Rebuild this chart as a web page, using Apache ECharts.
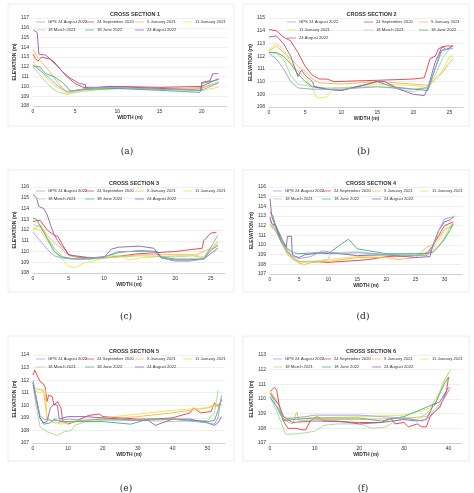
<!DOCTYPE html>
<html><head><meta charset="utf-8">
<script src="https://cdn.jsdelivr.net/npm/echarts@6/dist/echarts.min.js"></script>
<style>html,body{margin:0;padding:0;background:#fff}#c{width:474px;height:493px}</style>
</head><body><div id="c"></div>
<script>
const seriesNames=['GPS 24 August 2022','24 September 2020','5 January 2021','11 January 2021','18 March 2021','18 June 2022','24 August 2022'];
const colors=['#8fa3dc','#e63b3b','#f6b24a','#eee04a','#a9d98b','#3fae7d','#8e5bb5'];
const titles=['CROSS SECTION 1','CROSS SECTION 2','CROSS SECTION 3','CROSS SECTION 4','CROSS SECTION 5','CROSS SECTION 6'];
const captions=['(a)','(b)','(c)','(d)','(e)','(f)'];
const yMin=[108,108,108,107,107,107];
const yMax=[117,115,116,116,114,113];
const xMax=[23,27,27,33,55,43];
const xInt=[5,5,5,5,10,10];

// Cross section 1
const p1_gps=[[0,112.2],[1,111.5],[2,110.8],[3,110.0],[4,109.5],[5,109.6],[7,109.9],[10,109.9],[15,109.7],[20,109.6],[22,110.4]];
const p1_sep20=[[0,113.3],[0.3,112.8],[0.6,112.6],[1,113],[2,112.8],[3,112],[4,111],[5,110.3],[6,109.9],[8,109.9],[10,110],[15,109.9],[20,110],[22,110.8]];
const p1_jan5=[[0,113.8],[0.5,113],[1,112.5],[2,111.5],[3,110.3],[4,109.4],[5,109.6],[7,109.8],[10,109.8],[15,109.7],[20,109.9],[22,110.3]];
const p1_jan11=[[0,112.5],[1,111.5],[2,110.5],[3,109.8],[4,109.3],[6,109.6],[10,109.8],[15,109.8],[20,109.6],[22,109.9]];
const p1_mar18=[[0,112],[1,111],[2,110],[3,109.4],[4,109.2],[5,109.4],[8,109.7],[12,109.8],[16,109.7],[20,109.8],[22,110.5]];
const p1_jun18=[[0,112.1],[0.8,112],[1.5,111.3],[2.5,111],[3.5,110.4],[4.5,109.5],[6,109.7],[10,109.8],[15,109.6],[19.8,109.4],[20,110.3],[22,110.7]];
const p1_aug24=[[0,115.8],[0.5,115.5],[0.7,113.3],[1.5,113.2],[2.5,112.5],[3.5,111.5],[4.5,110.8],[5.5,110.3],[6.2,110.2],[6.3,109.8],[9,110],[15,109.8],[20,109.6],[20,110.4],[21,110.6],[21.3,111.3],[22,111.3]];
// Cross section 2
const p2_gps=[[0,112.2],[1,111.8],[2,111],[3,110],[4,109.5],[6,109.4],[8,109.4],[10,109.4],[15,109.6],[20,109.4],[22,109.5],[23,111],[24,112.5],[25.5,112.6]];
const p2_sep20=[[0,114.1],[1,114],[2,113.5],[3,113.2],[4,112.3],[5,111.2],[6,110.5],[7,110.2],[8,110.2],[9,110],[15,110.1],[20,110.2],[21.5,110.3],[22.3,111.8],[23,112],[23.5,112.6],[24.5,112.8],[25.5,112.8]];
const p2_jan5=[[0,112.4],[1,112.8],[2,112.3],[3,111.8],[4,111.2],[5,110.8],[6,110.2],[7,109.9],[10,109.8],[15,110],[20,109.8],[22,109.7],[24,110.7],[25,111.5],[25.5,111.8]];
const p2_jan11=[[0,112.5],[1,113],[2,112.5],[3,111.5],[4,110.8],[5,110.3],[6,109.5],[6.5,108.8],[7,108.7],[8,108.8],[9,109.5],[12,109.6],[15,109.8],[20,109.7],[22,109.5],[24,110.8],[25,112],[25.5,112]];
const p2_mar18=[[0,112.3],[1,112.2],[2,111.8],[3,110.5],[4,109.8],[6,109.6],[8,109.5],[10,109.5],[15,109.6],[17,109.5],[20,109.2],[22,109.6],[23,110.5],[24,111.8],[25,112.6]];
const p2_jun18=[[0,112.3],[1,112.3],[2,112],[3,111.4],[4,110.6],[5,110],[6,109.6],[8,109.4],[10,109.3],[15,110],[17,109.6],[20,109.4],[22,109.3],[23,111],[23.8,112.4],[25,112.6]];
const p2_aug24=[[0,113.5],[1,113.6],[2,113],[3,112],[4,110.4],[4.5,110.9],[5,110.5],[6,110],[6.3,109.6],[8,109.4],[10,109.3],[13,109.7],[15,110],[16,110],[18,109.4],[20,109],[21.5,108.9],[22,109.5],[23,111.5],[24,112.8],[24.5,112.5],[25.5,112.8]];
// Cross section 3
const p3_gps=[[0,111.8],[1,111],[2,110.2],[3,109.6],[4,109.4],[6,109.3],[8,109.4],[10,109.5],[12,110],[17,110],[18,109.4],[20,109.1],[22,109.1],[24,109.3],[25,110.4],[26,111.5]];
const p3_sep20=[[0,112.8],[1,112.9],[2,112],[3,111.5],[3.5,111.4],[4,110.8],[5,109.7],[6,109.5],[8,109.4],[10,109.4],[15,109.8],[20,110],[22.5,110.2],[23.8,110.3],[24,111],[25,111.7],[25.8,111.8]];
const p3_jan5=[[0,112],[1,112.5],[2,111.5],[3,110.8],[4,110.3],[5,109.6],[7,109.5],[10,109.4],[15,109.7],[20,109.7],[23,109.7],[25,110.3],[26,110.8]];
const p3_jan11=[[0,112.2],[1,112],[2,111],[3,110],[4,109.4],[5,108.6],[6,108.5],[7,108.9],[9,109.2],[11,109.6],[12.5,109.6],[13.5,109.2],[15,109.4],[20,109.6],[22.5,109.7],[24,109.5],[25,110.3],[26,111]];
const p3_mar18=[[0,112.5],[1,112.3],[2,111.3],[3,110.3],[4,109.6],[5,109.3],[8,109.3],[10,109.4],[15,109.6],[20,109.5],[22.5,109.6],[24,109.4],[25,110.2],[26,110.5]];
const p3_jun18=[[0,113.1],[0.5,113],[1,112.4],[2,111.2],[3,110],[4,109.5],[6,109.3],[8,109.3],[10,109.5],[12,109.9],[15,110.1],[17.5,110],[18,109.5],[20,109.3],[22,109.3],[24,109.3],[25,110.1],[26,110.6]];
const p3_aug24=[[0,115.3],[0.5,115],[0.8,114.2],[1.5,114],[2,113.4],[2.5,112.4],[3,111.5],[3.5,111],[4,110.5],[4.5,110.2],[5,109.7],[6,109.6],[8,109.4],[10,109.5],[11,110.2],[12,110.4],[15,110.5],[17,110.3],[18,109.4],[20,109.2],[22,109.2],[24,109.3],[25,109.8],[26,110.3]];
// Cross section 4
const p4_gps=[[0,112.5],[1,111.5],[2,110.2],[3,109.3],[4,108.8],[5,108.6],[7,108.8],[9,109.4],[12,109.1],[15,109.2],[20,109],[25,108.9],[27,108.9],[28,109.8],[29,111.5],[30,112.7],[31.5,112.9]];
const p4_sep20=[[0,112.9],[0.3,112.2],[1,112],[2,110.5],[3,109.3],[4,108.6],[5,108.3],[7,108.3],[10,108.2],[15,108.4],[17,108.5],[20,108.8],[25,108.9],[27,109.2],[28,109.9],[29,111],[30,112],[31.5,112.4]];
const p4_jan5=[[0,112],[1,111.4],[2,110.2],[3,109],[4,108.5],[5,108.1],[6,108],[8,108.3],[10,108.3],[15,108.7],[20,108.7],[22,108.5],[25,108.7],[27,109.8],[28,110],[29,110.8],[30,111.6],[31.5,112]];
const p4_jan11=[[0,112.2],[1,111.5],[2,110.5],[3,109.5],[4,108.7],[5,108.2],[7,108.3],[10,108.5],[15,108.8],[20,108.9],[25,108.9],[27,109],[28,109.6],[29,110.5],[30,111.5],[31.5,112.2]];
const p4_mar18=[[0,112.1],[1,111.5],[2,110.5],[3,109.2],[4,108.6],[5,108.3],[8,108.2],[10,108.5],[10.5,109.2],[15,109.3],[20,109],[25,109],[28,109.2],[29,109.8],[30,110.8],[31.5,112.4]];
const p4_jun18=[[0,113.4],[0.5,113],[1,112],[2,110.7],[3,109.6],[4,109.2],[5,109.1],[8,109.2],[10,109.1],[12,110],[13.5,110.6],[15,109.6],[18,109.3],[20,109.1],[25,109.1],[27,109.1],[28,109.3],[29,109.9],[30,110.6],[31,111.6],[31.5,112.2]];
const p4_aug24=[[0,114.8],[0.3,113],[0.5,112.6],[1,111.8],[2,110.3],[2.8,109.8],[3,110.9],[3.7,110.9],[3.8,109.2],[4,108.9],[5,108.7],[6,109],[9,109.2],[12,109.1],[15,108.9],[20,109],[25,108.7],[27.5,108.8],[28,110],[29,111.5],[30,112.4],[31,112.6],[31.7,113]];
// Cross section 5
const p5_gps=[[0,112],[1,110.5],[2,109.2],[3,108.9],[5,108.8],[8,108.8],[10,108.9],[15,108.8],[20,108.9],[30,108.8],[40,108.9],[50,108.6],[52,108.5],[53,109],[54,110.8]];
const p5_sep20=[[0,112.4],[0.5,112.8],[1,112.7],[1.5,112.2],[2,111.9],[3,111.7],[3.5,111.4],[4,110.3],[4.5,110.8],[5.5,110.7],[6,110],[7,110.3],[8,109.8],[8.5,108.8],[10,108.5],[12,108.7],[16,109.2],[19,109.3],[20,109.1],[25,109],[30,108.9],[35,108.9],[40,109],[45,109.4],[46,109.8],[48,109.4],[51,109.5],[52,110.2],[53,109.9],[54,110.4]];
const p5_jan5=[[0,111.5],[1,111.3],[3,111.2],[4,109],[6,108.6],[10,108.7],[15,108.8],[20,108.9],[30,109.1],[40,109.4],[45,109.6],[50,109.8],[52,110],[54,110.1]];
const p5_jan11=[[0,111.2],[2,111],[3.5,111.2],[4,108.9],[8,108.5],[12,108.7],[20,109],[30,109.3],[40,109.6],[50,109.8],[54,110]];
const p5_mar18=[[0,111.6],[1,109.8],[2,108.3],[4,107.9],[6,107.7],[7,107.6],[9,107.9],[11,108],[12,108.4],[15,108.7],[20,108.8],[30,108.8],[40,108.7],[50,108.8],[52,109.4],[53,111.2]];
const p5_jun18=[[0,111.8],[1,110.5],[2,109],[3,108.5],[5,108.6],[6,108.9],[8,108.7],[15,108.7],[20,108.7],[28,108.5],[33,108.9],[40,108.9],[50,108.7],[52,108.8],[53,109.6],[54,110.5]];
const p5_aug24=[[0,111.8],[1,110.3],[2,109],[3,108.6],[4,108.7],[5,109.8],[6,110.1],[7,110],[7.5,108.9],[10,109.1],[15,109.1],[20,109],[25,108.9],[30,108.8],[33,108.8],[35,108.4],[37,108.6],[40,108.9],[45,108.9],[50,108.6],[52,108.4],[53,108.6],[54,109.1]];
// Cross section 6
const p6_gps=[[0,110.4],[1,109.8],[2,109.1],[3,108.6],[5,108.7],[8,108.8],[10,108.9],[20,108.9],[25,108.8],[30,108.7],[34,108.5],[36,108.8],[38,109.5],[40,110.6]];
const p6_sep20=[[0,110.5],[1,110.8],[1.5,110.6],[2,109.7],[3,108.5],[4,108],[6,108],[7,107.9],[8,107.9],[9,108.5],[10.5,108.8],[12,108.5],[20,108.4],[25,108.4],[27,108.7],[28,108.3],[30,108.4],[31,108.1],[33,108.3],[34,108.1],[35,108.1],[36,108.9],[38,109.4],[39.5,110.5],[40,111.5]];
const p6_jan5=[[0,110.6],[2,109.5],[3,108.6],[5,108.3],[6,109.1],[6.5,108.5],[10,108.6],[20,108.6],[30,108.7],[35,108.8],[37,109.3],[39,110],[40.5,110.8]];
const p6_jan11=[[0,110.6],[2,109.6],[3,108.8],[5,108.7],[10,108.7],[20,108.8],[30,108.9],[34,109.2],[36,109.4],[38,110.5],[40,111.8]];
const p6_mar18=[[0,110.2],[2,108.8],[3.5,107.6],[5,107.6],[8,107.7],[10,107.8],[12,108.2],[15,108.3],[20,108.3],[23,108],[26,108.1],[28,108.5],[30,108.7],[33,108.6],[35,109],[37,109.6],[39,111.3],[40.5,112]];
const p6_jun18=[[0,110.1],[2,109.3],[3,108.5],[5,108.6],[10,108.7],[20,108.7],[25,108.5],[30,108.8],[34,109.3],[37,109.7],[39,111],[40,111.5]];
const p6_aug24=[[0,110.4],[2,109.6],[3,108.8],[5,108.4],[10,108.5],[15,108.5],[20,108.3],[25,108.4],[30,108.6],[33,108.5],[35,108.6],[36,109.2],[36.5,109.6],[38,109.8],[40,110.8]];

const panels=[
 [p1_gps,p1_sep20,p1_jan5,p1_jan11,p1_mar18,p1_jun18,p1_aug24],
 [p2_gps,p2_sep20,p2_jan5,p2_jan11,p2_mar18,p2_jun18,p2_aug24],
 [p3_gps,p3_sep20,p3_jan5,p3_jan11,p3_mar18,p3_jun18,p3_aug24],
 [p4_gps,p4_sep20,p4_jan5,p4_jan11,p4_mar18,p4_jun18,p4_aug24],
 [p5_gps,p5_sep20,p5_jan5,p5_jan11,p5_mar18,p5_jun18,p5_aug24],
 [p6_gps,p6_sep20,p6_jan5,p6_jan11,p6_mar18,p6_jun18,p6_aug24]];

const gridPos=[[33,18,194,88],[269,18,195,89],[33,187,192,86],[270,187,192,87],[33,355,192,88],[270,355,192,88]];
const boxes=[[8,4,226,122],[243,4,226,122],[8,170,226,122],[243,170,226,122],[8,336,226,125],[243,336,226,125]];
const capY=[148,148,313,313,485,485];
const colOff4=[3,52,102,150];
const colOff3=[18,95,150];

const grid=[],xAxis=[],yAxis=[],series=[],legend=[],title=[],graphic=[];
panels.forEach((p,i)=>{
  const [l,t,w,h]=gridPos[i];
  grid.push({left:l,top:t,width:w,height:h,show:false});
  xAxis.push({type:'value',gridIndex:i,min:0,max:xMax[i],interval:xInt[i],
    name:'WIDTH (m)',nameLocation:'middle',nameGap:9,nameTextStyle:{fontSize:5,fontWeight:'bold',color:'#333'},
    axisLine:{lineStyle:{color:'#bbb',width:0.6}},axisTick:{show:false},splitLine:{show:false},
    axisLabel:{fontSize:5,color:'#333',margin:3,showMaxLabel:false}});
  yAxis.push({type:'value',gridIndex:i,min:yMin[i],max:yMax[i],interval:1,
    name:'ELEVATION (m)',nameLocation:'middle',nameGap:14,nameRotate:90,nameTextStyle:{fontSize:5,fontWeight:'bold',color:'#333'},
    axisLine:{show:false},axisTick:{show:false},
    splitLine:{lineStyle:{color:'#e4e4e4',width:0.6}},axisLabel:{fontSize:5,color:'#333',margin:4}});
  p.forEach((d,k)=>{
    series.push({type:'line',name:seriesNames[k]+'#'+i,xAxisIndex:i,yAxisIndex:i,data:d,showSymbol:false,
      color:colors[k],lineStyle:{width:0.9,color:colors[k]},z:k===0?3:2,animation:false});
  });
  const cols=i===1?3:4;
  const offs=i===1?colOff3:colOff4;
  seriesNames.forEach((n,k)=>{
    const r=Math.floor(k/cols),c=k%cols;
    legend.push({data:[n+'#'+i],formatter:s=>s.split('#')[0],left:l+offs[c],top:t+2+r*8,itemWidth:9,itemHeight:4,
      icon:'path://M0,1.6H10V2.4H0Z',itemGap:2,padding:0,selectedMode:false,
      textStyle:{fontSize:4.2,color:'#333',padding:[0,0,0,-2]}});
  });
  title.push({text:titles[i],left:l+w/2,top:t-12,textAlign:'center',textStyle:{fontSize:5.5,fontWeight:'bold',color:'#333'}});
  title.push({text:captions[i],left:l+w/2-8,top:capY[i]-6,textAlign:'center',textStyle:{fontSize:9,fontWeight:'normal',fontFamily:'DejaVu Serif',color:'#222'}});
  const b=boxes[i];
  graphic.push({type:'rect',shape:{x:b[0],y:b[1],width:b[2],height:b[3]},style:{fill:'none',stroke:'#e0e0e0',lineWidth:0.6},z:-1});
});

const chart=echarts.init(document.getElementById('c'),null,{renderer:'canvas'});
chart.setOption({animation:false,backgroundColor:'#fff',textStyle:{fontFamily:'Liberation Sans, Arial'},
  grid,xAxis,yAxis,series,legend,title,graphic});
</script></body></html>
